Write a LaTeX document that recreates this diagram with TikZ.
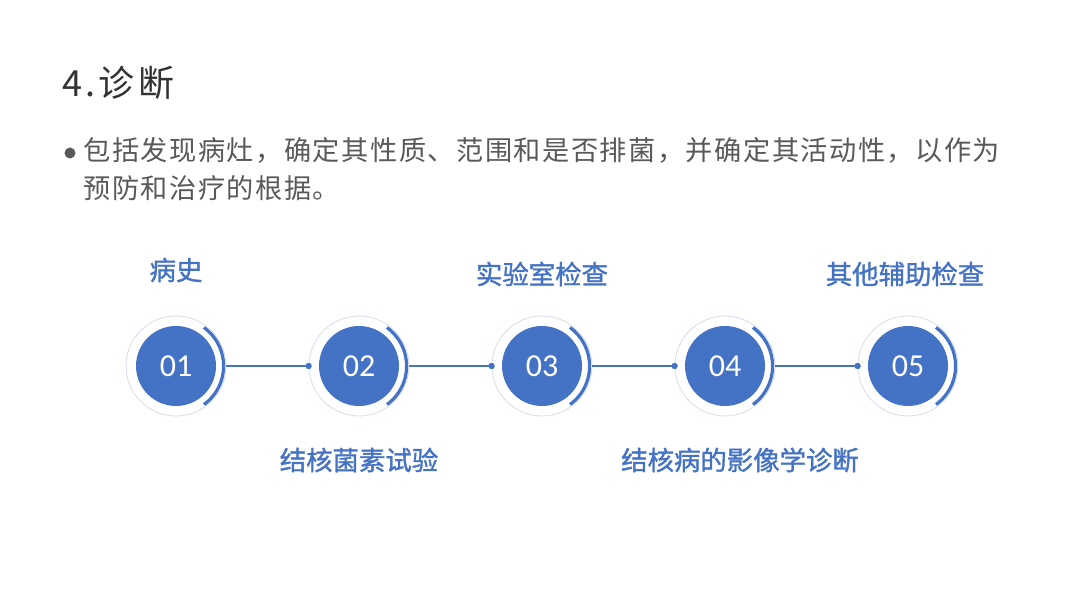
\documentclass[tikz,border=0pt]{standalone}
\usepackage{fontspec}
\setmainfont{Noto Sans CJK SC}
\newfontfamily\bodyfont[LetterSpace=5.5]{Noto Sans CJK SC}
\newfontfamily\headfont[LetterSpace=9]{Noto Sans CJK SC}
\newfontfamily\labfont[FakeBold=1.3]{Noto Sans CJK SC}
\newfontfamily\numfont{Carlito}
\definecolor{stepblue}{HTML}{4472C4}
\definecolor{ringgray}{HTML}{D3DCEF}
\definecolor{textgray}{HTML}{595959}

\begin{document}
\begin{tikzpicture}[x=0.5pt,y=-0.5pt,
  ring/.style={circle,draw=ringgray,line width=0.4pt,minimum size=50pt,inner sep=0pt},
  disc/.style={circle,fill=stepblue,minimum size=40pt,inner sep=0pt,text=white,font=\numfont\fontsize{16}{16}\selectfont},
  lab/.style={text=stepblue,font=\labfont\fontsize{13.2}{13.2}\selectfont}]
  \useasboundingbox (0,0) rectangle (1080,608);
  % heading and text
  \node[anchor=west,text=black!80,inner sep=0pt,font=\headfont\fontsize{18}{18}\selectfont] (title) at (62,83) {4.诊断};
  \fill[textgray] (70,153) circle (5.5);
  \node[anchor=north west,align=left,text=textgray,inner sep=0pt,
    font=\bodyfont\fontsize{13.6}{19}\selectfont] (intro) at (83,137)
    {包括发现病灶，确定其性质、范围和是否排菌，并确定其活动性，以作为\\预防和治疗的根据。};
  % steps
  \foreach \i/\x in {1/176,2/359,3/542,4/725,5/908} {
    \node[ring] (r\i) at (\x,366) {};
    \node[disc] (c\i) at (\x,366) {0\i};
    \draw[stepblue,line width=1.6pt] (c\i) ++(-54:23.8pt) arc[start angle=-54,end angle=54,radius=23.8pt];
  }
  \foreach \i/\j in {1/2,2/3,3/4,4/5} {
    \draw[stepblue,line width=0.8pt] (r\i.east) -- (r\j.west);
    \fill[stepblue] (r\j.west) circle (1.6pt);
  }
  \node[lab] (l1) at (176,270) {病史};
  \node[lab] (l2) at (359,460) {结核菌素试验};
  \node[lab] (l3) at (542,274) {实验室检查};
  \node[lab] (l4) at (740,460) {结核病的影像学诊断};
  \node[lab] (l5) at (905,274) {其他辅助检查};
\end{tikzpicture}
\end{document}
